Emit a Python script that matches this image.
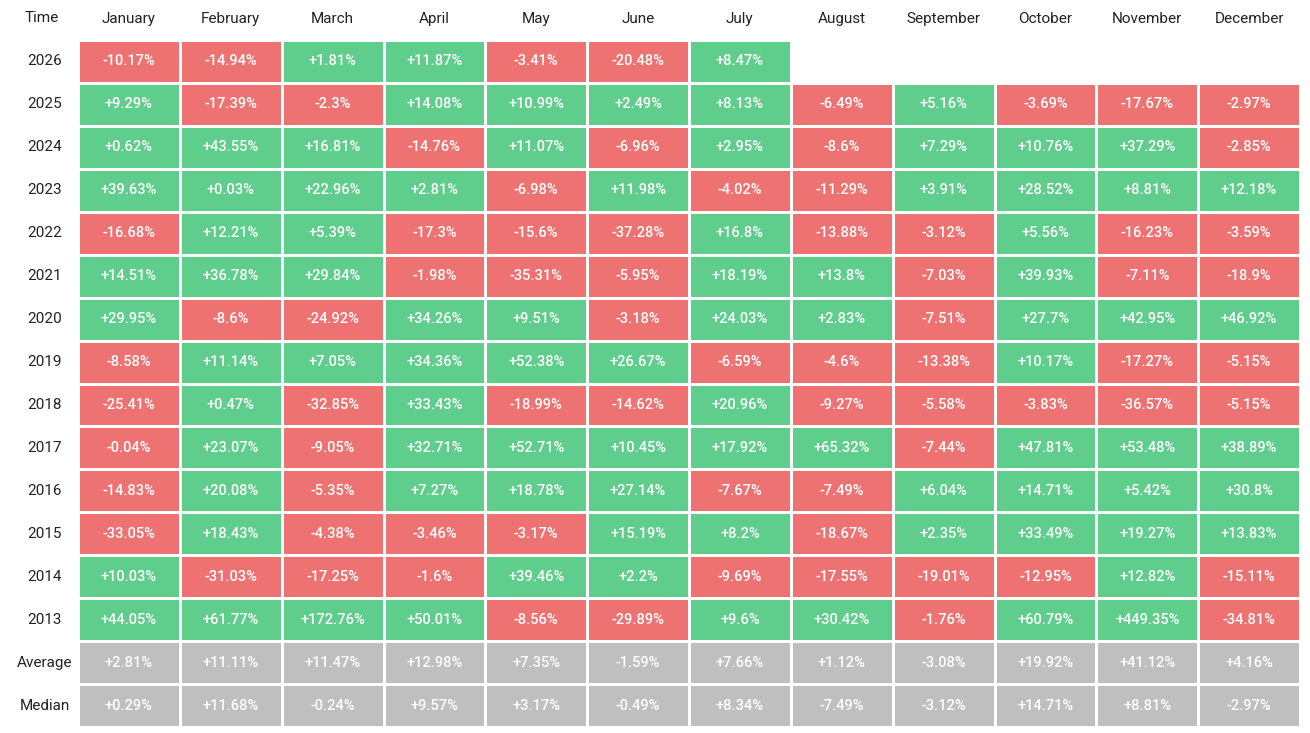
import numpy as np, pandas as pd, seaborn as sns, matplotlib
matplotlib.use("Agg")
import matplotlib.pyplot as plt
from matplotlib.colors import ListedColormap

months = ["January","February","March","April","May","June","July","August","September","October","November","December"]
rows = ["2026","2025","2024","2023","2022","2021","2020","2019","2018","2017","2016","2015","2014","2013","Average","Median"]
N = np.nan
r2026 = [-10.17,-14.94,1.81,11.87,-3.41,-20.48,8.47,N,N,N,N,N]
r2025 = [9.29,-17.39,-2.3,14.08,10.99,2.49,8.13,-6.49,5.16,-3.69,-17.67,-2.97]
r2024 = [0.62,43.55,16.81,-14.76,11.07,-6.96,2.95,-8.6,7.29,10.76,37.29,-2.85]
r2023 = [39.63,0.03,22.96,2.81,-6.98,11.98,-4.02,-11.29,3.91,28.52,8.81,12.18]
r2022 = [-16.68,12.21,5.39,-17.3,-15.6,-37.28,16.8,-13.88,-3.12,5.56,-16.23,-3.59]
r2021 = [14.51,36.78,29.84,-1.98,-35.31,-5.95,18.19,13.8,-7.03,39.93,-7.11,-18.9]
r2020 = [29.95,-8.6,-24.92,34.26,9.51,-3.18,24.03,2.83,-7.51,27.7,42.95,46.92]
r2019 = [-8.58,11.14,7.05,34.36,52.38,26.67,-6.59,-4.6,-13.38,10.17,-17.27,-5.15]
r2018 = [-25.41,0.47,-32.85,33.43,-18.99,-14.62,20.96,-9.27,-5.58,-3.83,-36.57,-5.15]
r2017 = [-0.04,23.07,-9.05,32.71,52.71,10.45,17.92,65.32,-7.44,47.81,53.48,38.89]
r2016 = [-14.83,20.08,-5.35,7.27,18.78,27.14,-7.67,-7.49,6.04,14.71,5.42,30.8]
r2015 = [-33.05,18.43,-4.38,-3.46,-3.17,15.19,8.2,-18.67,2.35,33.49,19.27,13.83]
r2014 = [10.03,-31.03,-17.25,-1.6,39.46,2.2,-9.69,-17.55,-19.01,-12.95,12.82,-15.11]
r2013 = [44.05,61.77,172.76,50.01,-8.56,-29.89,9.6,30.42,-1.76,60.79,449.35,-34.81]
average = [2.81,11.11,11.47,12.98,7.35,-1.59,7.66,1.12,-3.08,19.92,41.12,4.16]
median = [0.29,11.68,-0.24,9.57,3.17,-0.49,8.34,-7.49,-3.12,14.71,8.81,-2.97]

vals = np.array([r2026,r2025,r2024,r2023,r2022,r2021,r2020,r2019,r2018,r2017,r2016,r2015,r2014,r2013,average,median], dtype=float)
cat = np.where(vals < 0, 0.0, 1.0)
cat[-2:] = 2.0
cat[np.isnan(vals)] = np.nan
annot = np.array([["" if np.isnan(v) else f"{v:+g}%" for v in row] for row in vals])

plt.rcParams['font.family'] = ['Roboto', 'DejaVu Sans']
fig = plt.figure(figsize=(13.1, 7.33), dpi=100)
ax = fig.add_axes([78/1310, 1-727/733, 1222/1310, 687/733])
cmap = ListedColormap(["#ef7272", "#5fcd8b", "#bfbfbf"])
sns.heatmap(pd.DataFrame(cat, index=rows, columns=months), ax=ax, cmap=cmap, vmin=-0.5, vmax=2.5,
            cbar=False, linewidths=2, linecolor="white", annot=annot, fmt="",
            annot_kws={"color": "white", "fontsize": 10.5, "fontweight": "medium"})
ax.xaxis.tick_top()
ax.tick_params(length=0)
ax.tick_params(axis='x', pad=10, labelsize=11, labelcolor="#222222")
ax.tick_params(axis='y', pad=24, labelsize=11, labelcolor="#222222")
for t in ax.get_yticklabels():
    t.set_ha("center"); t.set_rotation(0)
ax.set_xticklabels(months, rotation=0)
fig.text(42/1310, 1-18/733, "Time", ha="center", va="center", fontsize=11, color="#222222")
fig.savefig("out.png", dpi=100, facecolor="white")
